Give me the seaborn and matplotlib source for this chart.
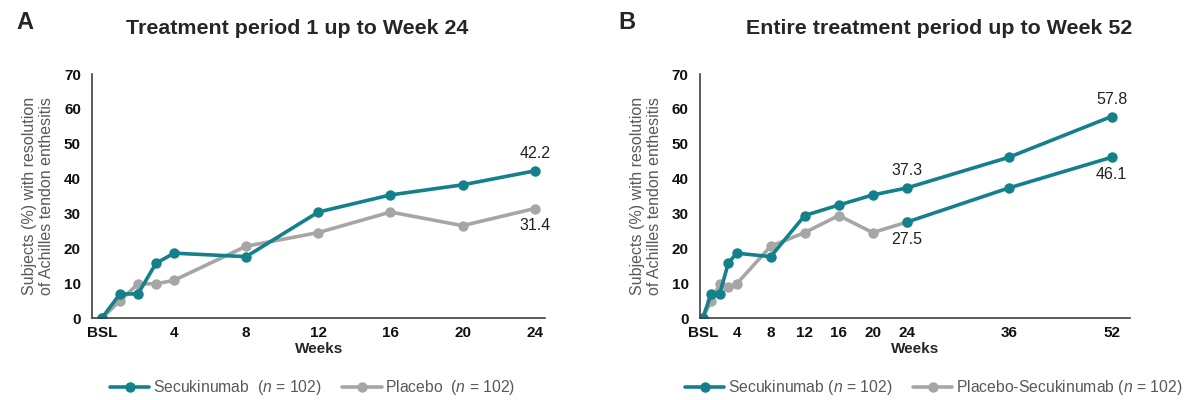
import numpy as np
import pandas as pd
import matplotlib
matplotlib.use("Agg")
import matplotlib.pyplot as plt
import seaborn as sns
from matplotlib.lines import Line2D

# DATOS
weeks_a = [0, 1, 2, 3, 4, 8, 12, 16, 20, 24]
secu_a = [0, 6.9, 6.9, 15.7, 18.6, 17.6, 30.4, 35.3, 38.2, 42.2]
pbo_a = [0, 4.9, 9.8, 9.8, 10.8, 20.6, 24.5, 30.4, 26.5, 31.4]

weeks_b = [0, 1, 2, 3, 4, 8, 12, 16, 20, 24, 36, 52]
secu_b = [0, 6.9, 6.9, 15.7, 18.6, 17.6, 29.4, 32.4, 35.3, 37.3, 46.1, 57.8]
pbo_b = [0, 4.9, 9.8, 8.8, 9.8, 20.6, 24.5, 29.4, 24.5, 27.5, 37.3, 46.1]
switch_week = 24

ticks_a = [0, 4, 8, 12, 16, 20, 24]
ticks_b = [0, 4, 8, 12, 16, 20, 24, 36, 52]
yticks = [0, 10, 20, 30, 40, 50, 60, 70]

title_a = "Treatment period 1 up to Week 24"
title_b = "Entire treatment period up to Week 52"
ylab = "Subjects (%) with resolution\nof Achilles tendon enthesitis"

TEAL = "#13808b"
GRAY = "#a6a6a6"
TXT = "#595959"

sns.set_style("white")
plt.rcParams["font.family"] = ["Liberation Sans", "DejaVu Sans"]
plt.rcParams["mathtext.fontset"] = "custom"
plt.rcParams["mathtext.rm"] = "Liberation Sans"
plt.rcParams["mathtext.it"] = "Liberation Sans:italic"

df_a = pd.DataFrame({"week": weeks_a, "secu": secu_a, "pbo": pbo_a})
df_b = pd.DataFrame({"week": weeks_b, "secu": secu_b, "pbo": pbo_b})

fig = plt.figure(figsize=(11.84, 4.0), dpi=100)
ax_a = fig.add_axes([0.0777, 0.205, 0.383, 0.61])
ax_b = fig.add_axes([0.591, 0.205, 0.363, 0.61])

line_kw = dict(marker="o", markersize=7.5, linewidth=2.6, markeredgewidth=0)

# Panel A
sns.lineplot(data=df_a, x="week", y="pbo", color=GRAY, ax=ax_a, **line_kw)
sns.lineplot(data=df_a, x="week", y="secu", color=TEAL, ax=ax_a, **line_kw)
ax_a.set_xlim(-0.55, 24.6)

# Panel B - eje x comprimido después de la semana 36 (como en el original)
def fwd(x):
    x = np.asarray(x, dtype=float)
    return np.where(x <= 36, x, 36 + (x - 36) * 0.756)

def inv(x):
    x = np.asarray(x, dtype=float)
    return np.where(x <= 36, x, 36 + (x - 36) / 0.756)

ax_b.set_xscale("function", functions=(fwd, inv))
sns.lineplot(data=df_b[df_b.week <= switch_week], x="week", y="pbo", color=GRAY, ax=ax_b, **line_kw)
sns.lineplot(data=df_b[df_b.week >= switch_week], x="week", y="pbo", color=TEAL, ax=ax_b, **line_kw)
sns.lineplot(data=df_b, x="week", y="secu", color=TEAL, ax=ax_b, **line_kw)
ax_b.set_xlim(-0.35, 54.8)

for ax, ticks in [(ax_a, ticks_a), (ax_b, ticks_b)]:
    ax.set_ylim(0, 70)
    ax.set_yticks(yticks)
    ax.set_yticklabels([str(t) for t in yticks], fontweight="bold", fontsize=11)
    ax.set_xticks(ticks)
    ax.set_xticklabels(["BSL"] + [str(t) for t in ticks[1:]], fontweight="bold", fontsize=11)
    ax.minorticks_off()
    ax.tick_params(axis="y", length=5, width=1, color="#404040", pad=3, labelcolor="#111111")
    ax.tick_params(axis="x", length=0, pad=6, labelcolor="#111111")
    for s in ["top", "right"]:
        ax.spines[s].set_visible(False)
    for s in ["left", "bottom"]:
        ax.spines[s].set_color("#404040")
        ax.spines[s].set_linewidth(1.2)
    ax.set_xlabel("Weeks", fontweight="bold", fontsize=11, labelpad=1)
    ax.set_ylabel(ylab, fontsize=11.5, color=TXT, labelpad=7)

# Etiquetas de valores
ann = dict(textcoords="offset points", ha="center", fontsize=11.5, color="#222222")
ax_a.annotate(f"{secu_a[-1]:.1f}", (weeks_a[-1], secu_a[-1]), xytext=(0, 7), va="bottom", **ann)
ax_a.annotate(f"{pbo_a[-1]:.1f}", (weeks_a[-1], pbo_a[-1]), xytext=(0, -7), va="top", **ann)
i24 = weeks_b.index(switch_week)
ax_b.annotate(f"{secu_b[i24]:.1f}", (weeks_b[i24], secu_b[i24]), xytext=(0, 7), va="bottom", **ann)
ax_b.annotate(f"{pbo_b[i24]:.1f}", (weeks_b[i24], pbo_b[i24]), xytext=(0, -7), va="top", **ann)
ax_b.annotate(f"{secu_b[-1]:.1f}", (weeks_b[-1], secu_b[-1]), xytext=(0, 7), va="bottom", **ann)
ax_b.annotate(f"{pbo_b[-1]:.1f}", (weeks_b[-1], pbo_b[-1]), xytext=(0, -7), va="top", **ann)

# Títulos y letras de panel
fig.text(0.2513, 0.93, title_a, ha="center", va="center", fontsize=15.4, fontweight="bold")
fig.text(0.793, 0.93, title_b, ha="center", va="center", fontsize=15.4, fontweight="bold")
fig.text(0.014, 0.943, "A", ha="left", va="center", fontsize=17, fontweight="bold")
fig.text(0.522, 0.943, "B", ha="left", va="center", fontsize=17, fontweight="bold")

# Leyendas
def handle(c):
    return Line2D([], [], color=c, marker="o", markersize=7.5, linewidth=2.6, markeredgewidth=0)

leg_kw = dict(loc="center", ncol=2, frameon=False, fontsize=11.3, handlelength=2.5,
              handletextpad=0.25, columnspacing=1.3, labelcolor=TXT)
ax_a.legend([handle(TEAL), handle(GRAY)],
            [r"Secukinumab  ($n$ = 102)", r"Placebo  ($n$ = 102)"],
            bbox_to_anchor=(0.487, -0.285), **leg_kw)
ax_b.legend([handle(TEAL), handle(GRAY)],
            [r"Secukinumab ($n$ = 102)", r"Placebo-Secukinumab ($n$ = 102)"],
            bbox_to_anchor=(0.545, -0.285), **leg_kw)

fig.savefig("out.png", dpi=100)
